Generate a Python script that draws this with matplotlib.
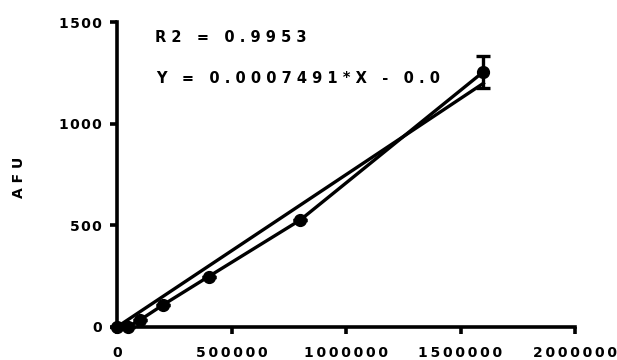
import matplotlib
matplotlib.use("Agg")
import matplotlib.pyplot as plt
from matplotlib.ticker import FuncFormatter

# Data
cells = [0, 50000, 100000, 200000, 400000, 800000, 1600000]
afu = [0, 2, 34, 108, 248, 526, 1255]
afu_err = [0, 0, 0, 0, 0, 0, 80]
slope = 0.0007491
intercept = 0.0
fit_x = [0, 1600000]
r2_text = "R2 = 0.9953"
eq_text = "Y = 0.0007491*X - 0.0"
y_label = "AFU"
x_ticks = [0, 500000, 1000000, 1500000, 2000000]
y_ticks = [0, 500, 1000, 1500]

SP = "\u2009"
def spaced(s, sep=SP):
    return sep.join(list(s))

plt.rcParams['font.family'] = ['DejaVu Sans']
plt.rcParams['font.weight'] = 'bold'

fig = plt.figure(figsize=(6.17, 3.6), dpi=100)
ax = fig.add_axes([117/617, 33/360, (575-117)/617, (327-22)/360])

lw = 2.4
ax.plot(cells, afu, color='black', lw=lw, marker='o', markersize=8.5, clip_on=False, zorder=3)
ax.errorbar(cells, afu, yerr=afu_err, fmt='none', ecolor='black', elinewidth=lw,
            capsize=5, capthick=lw, clip_on=False, zorder=3)
fit_y = [slope * x + intercept for x in fit_x]
ax.plot(fit_x, fit_y, color='black', lw=lw, clip_on=False, zorder=2)

ax.set_xlim(0, 2000000)
ax.set_ylim(0, 1500)
ax.set_xticks(x_ticks)
ax.set_yticks(y_ticks)
ax.xaxis.set_major_formatter(FuncFormatter(lambda v, p: spaced(str(int(v)))))
ax.yaxis.set_major_formatter(FuncFormatter(lambda v, p: spaced(str(int(v)), "\u200a")))

for s in ['top', 'right']:
    ax.spines[s].set_visible(False)
for s in ['left', 'bottom']:
    ax.spines[s].set_linewidth(2.6)
ax.tick_params(axis='both', width=2.6, length=5, labelsize=10, direction='out')
ax.tick_params(axis='x', pad=8.5)
ax.tick_params(axis='y', pad=6)
for lab in ax.get_xticklabels() + ax.get_yticklabels():
    lab.set_fontweight('bold')

fig.text(19/617, (360-177)/360, spaced(y_label, " "), fontsize=10, fontweight='bold',
         rotation=90, ha='center', va='center')

fig.text(155/617, (360-42)/360, spaced(r2_text, " "), fontsize=10.5, fontweight='bold', ha='left', va='baseline')
fig.text(156/617, (360-83)/360, spaced(eq_text, " "), fontsize=10.5, fontweight='bold', ha='left', va='baseline')

fig.savefig("out.png", dpi=100)
